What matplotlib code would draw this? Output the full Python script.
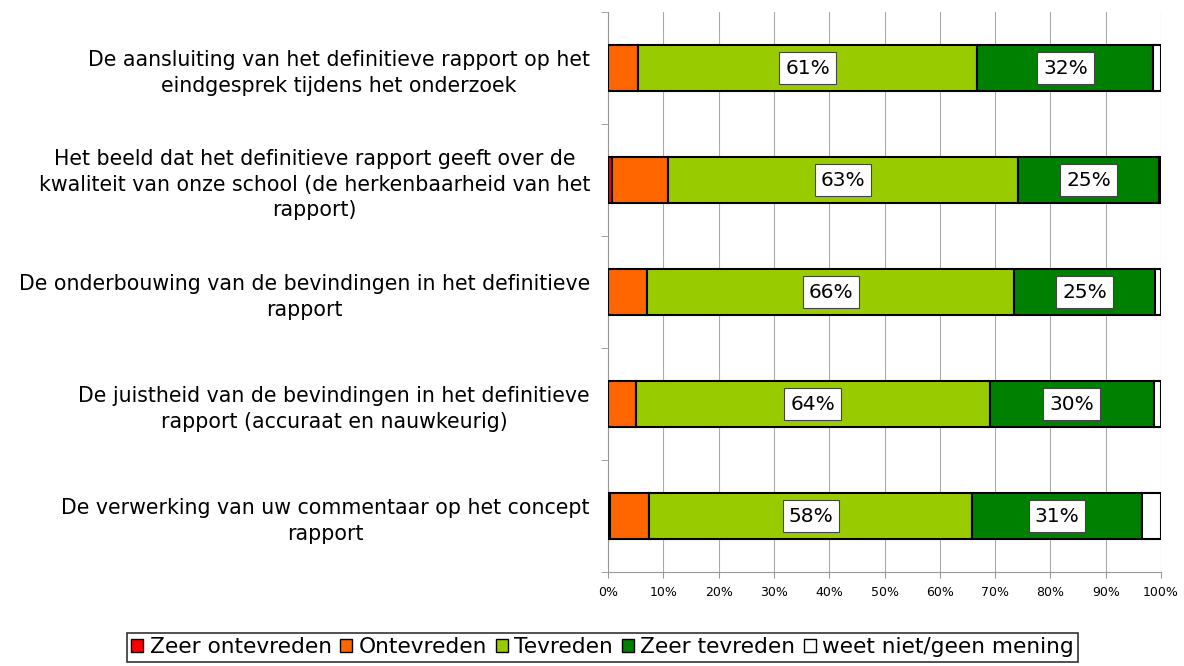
import matplotlib
matplotlib.use("Agg")
import matplotlib.pyplot as plt
import numpy as np

# categories (top to bottom)
labels = [
    "De aansluiting van het definitieve rapport op het\neindgesprek tijdens het onderzoek",
    "Het beeld dat het definitieve rapport geeft over de\nkwaliteit van onze school (de herkenbaarheid van het\nrapport)",
    "De onderbouwing van de bevindingen in het definitieve\nrapport",
    "De juistheid van de bevindingen in het definitieve\nrapport (accuraat en nauwkeurig)",
    "De verwerking van uw commentaar op het concept\nrapport",
]
zeer_ontevreden = [0.0, 0.8, 0.0, 0.0, 0.4]
ontevreden = [5.4, 10.0, 7.1, 5.0, 7.1]
tevreden = [61.4, 63.4, 66.4, 64.0, 58.4]
zeer_tevreden = [31.8, 25.4, 25.4, 29.7, 30.6]
weet_niet = [1.4, 0.4, 1.1, 1.3, 3.5]

series = [
    ("Zeer ontevreden", zeer_ontevreden, "#FF0000", False),
    ("Ontevreden", ontevreden, "#FF6600", False),
    ("Tevreden", tevreden, "#99CC00", True),
    ("Zeer tevreden", zeer_tevreden, "#008000", True),
    ("weet niet/geen mening", weet_niet, "#FFFFFF", False),
]

fig = plt.figure(figsize=(11.84, 6.66), dpi=100)
ax = fig.add_axes([608 / 1184, 1 - 572 / 666, 553 / 1184, 560 / 666])

y = np.arange(len(labels))
left = np.zeros(len(labels))
for name, vals, color, show in series:
    vals = np.array(vals)
    ax.barh(y, vals, left=left, height=0.41, color=color, edgecolor="black",
            linewidth=1.5, label=name, zorder=3)
    if show:
        for yi, l, v in zip(y, left, vals):
            ax.text(l + v / 2, yi, f"{v:.0f}%", ha="center", va="center",
                    fontsize=14.5, zorder=4,
                    bbox=dict(boxstyle="square,pad=0.3", fc="white",
                              ec="#444444", lw=0.8))
    left += vals

ax.set_xlim(0, 100)
ax.set_ylim(len(labels) - 0.5, -0.5)
ax.set_xticks(np.arange(0, 101, 10))
ax.set_xticklabels([f"{t}%" for t in range(0, 101, 10)], fontsize=9)
ax.set_yticks(y)
ax.set_yticklabels(labels, fontsize=14.8)
for lbl in ax.get_yticklabels():
    lbl.set_multialignment("center")
    lbl.set_linespacing(1.35)
ax.set_yticks(np.arange(-0.5, len(labels)), minor=True)
ax.tick_params(axis="y", which="major", length=0, pad=13)
ax.tick_params(axis="y", which="minor", length=5, color="#999999")
ax.tick_params(axis="x", length=4, color="#999999", pad=6)
ax.grid(axis="x", color="#aaaaaa", linewidth=0.8, zorder=0)
for s in ["top", "right"]:
    ax.spines[s].set_visible(False)
for s in ["left", "bottom"]:
    ax.spines[s].set_color("#999999")

handles, names = ax.get_legend_handles_labels()
leg = fig.legend(handles, names, loc="lower center", bbox_to_anchor=(0.509, -0.01),
                 ncol=5, fontsize=15.6, frameon=True, fancybox=False,
                 handlelength=0.55, handleheight=0.55, handletextpad=0.3,
                 columnspacing=0.4, borderpad=0.2)
leg.get_frame().set_edgecolor("black")
leg.get_frame().set_linewidth(1.2)
for h in leg.legend_handles:
    h.set_linewidth(1)

fig.savefig("out.png", dpi=100)
